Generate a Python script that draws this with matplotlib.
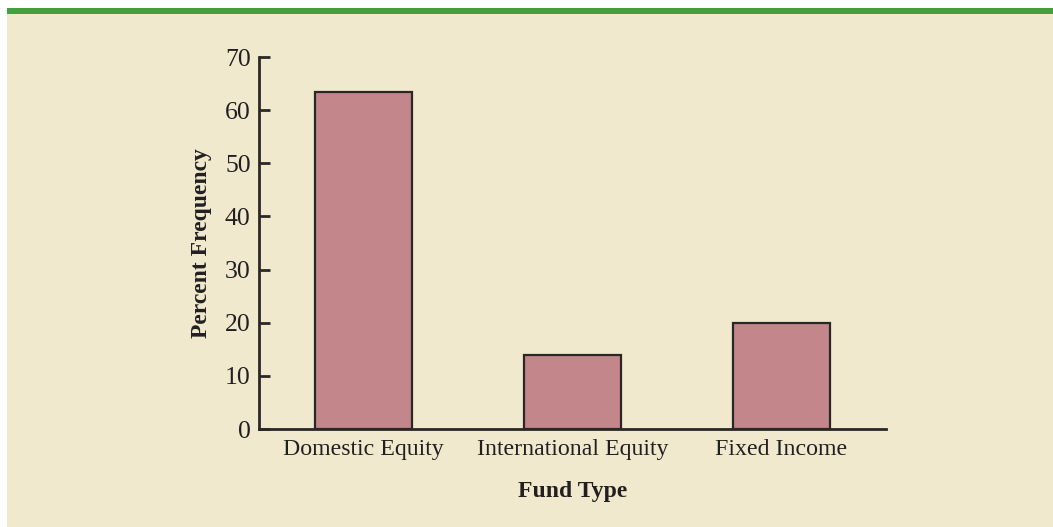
import matplotlib
matplotlib.use("Agg")
import matplotlib.pyplot as plt
from matplotlib.patches import Rectangle

categories = ["Domestic Equity", "International Equity", "Fixed Income"]
percent_frequency = [63.5, 14, 20]
y_ticks = [0, 10, 20, 30, 40, 50, 60, 70]

BG = "#F0E9CE"
BAR = "#C2868B"
EDGE = "#2B2727"
TXT = "#231F20"
GREEN = "#43A03E"

plt.rcParams["font.family"] = ["Liberation Serif", "DejaVu Serif"]

fig = plt.figure(figsize=(10.53, 5.27), dpi=100)
fig.patch.set_facecolor("white")
# beige panel and green top rule
fig.add_artist(Rectangle((7/1053, 0), 1 - 7/1053, (527 - 14)/527, transform=fig.transFigure,
                         facecolor=BG, edgecolor="none", zorder=0))
fig.add_artist(Rectangle((7/1053, (527 - 14)/527), 1 - 7/1053, 6/527, transform=fig.transFigure,
                         facecolor=GREEN, edgecolor="none", zorder=0))

ax = fig.add_axes([259/1053, (527 - 429)/527, (886 - 259)/1053, (429 - 57)/527])
ax.set_facecolor("none")

x = list(range(len(categories)))
ax.bar(x, percent_frequency, width=0.464, color=BAR, edgecolor=EDGE, linewidth=1.6, zorder=2)

ax.set_xlim(-0.5, 2.5)
ax.set_ylim(0, 70)
ax.set_yticks(y_ticks)
ax.set_xticks(x)
ax.set_xticklabels(categories)

for s in ["top", "right"]:
    ax.spines[s].set_visible(False)
for s in ["left", "bottom"]:
    ax.spines[s].set_linewidth(2.0)
    ax.spines[s].set_color(EDGE)
    ax.spines[s].set_zorder(3)

ax.tick_params(axis="y", direction="in", length=8, width=2.0, color=EDGE,
               labelsize=18.5, labelcolor=TXT, pad=6)
ax.tick_params(axis="x", length=0, labelsize=17.2, labelcolor=TXT, pad=7)

ax.set_ylabel("Percent Frequency", fontsize=17, fontweight="bold", color=TXT)
ax.yaxis.set_label_coords(-0.075, 0.5)
ax.set_xlabel("Fund Type", fontsize=17, fontweight="bold", color=TXT, labelpad=15)

fig.savefig("out.png", dpi=100, facecolor=fig.get_facecolor())
